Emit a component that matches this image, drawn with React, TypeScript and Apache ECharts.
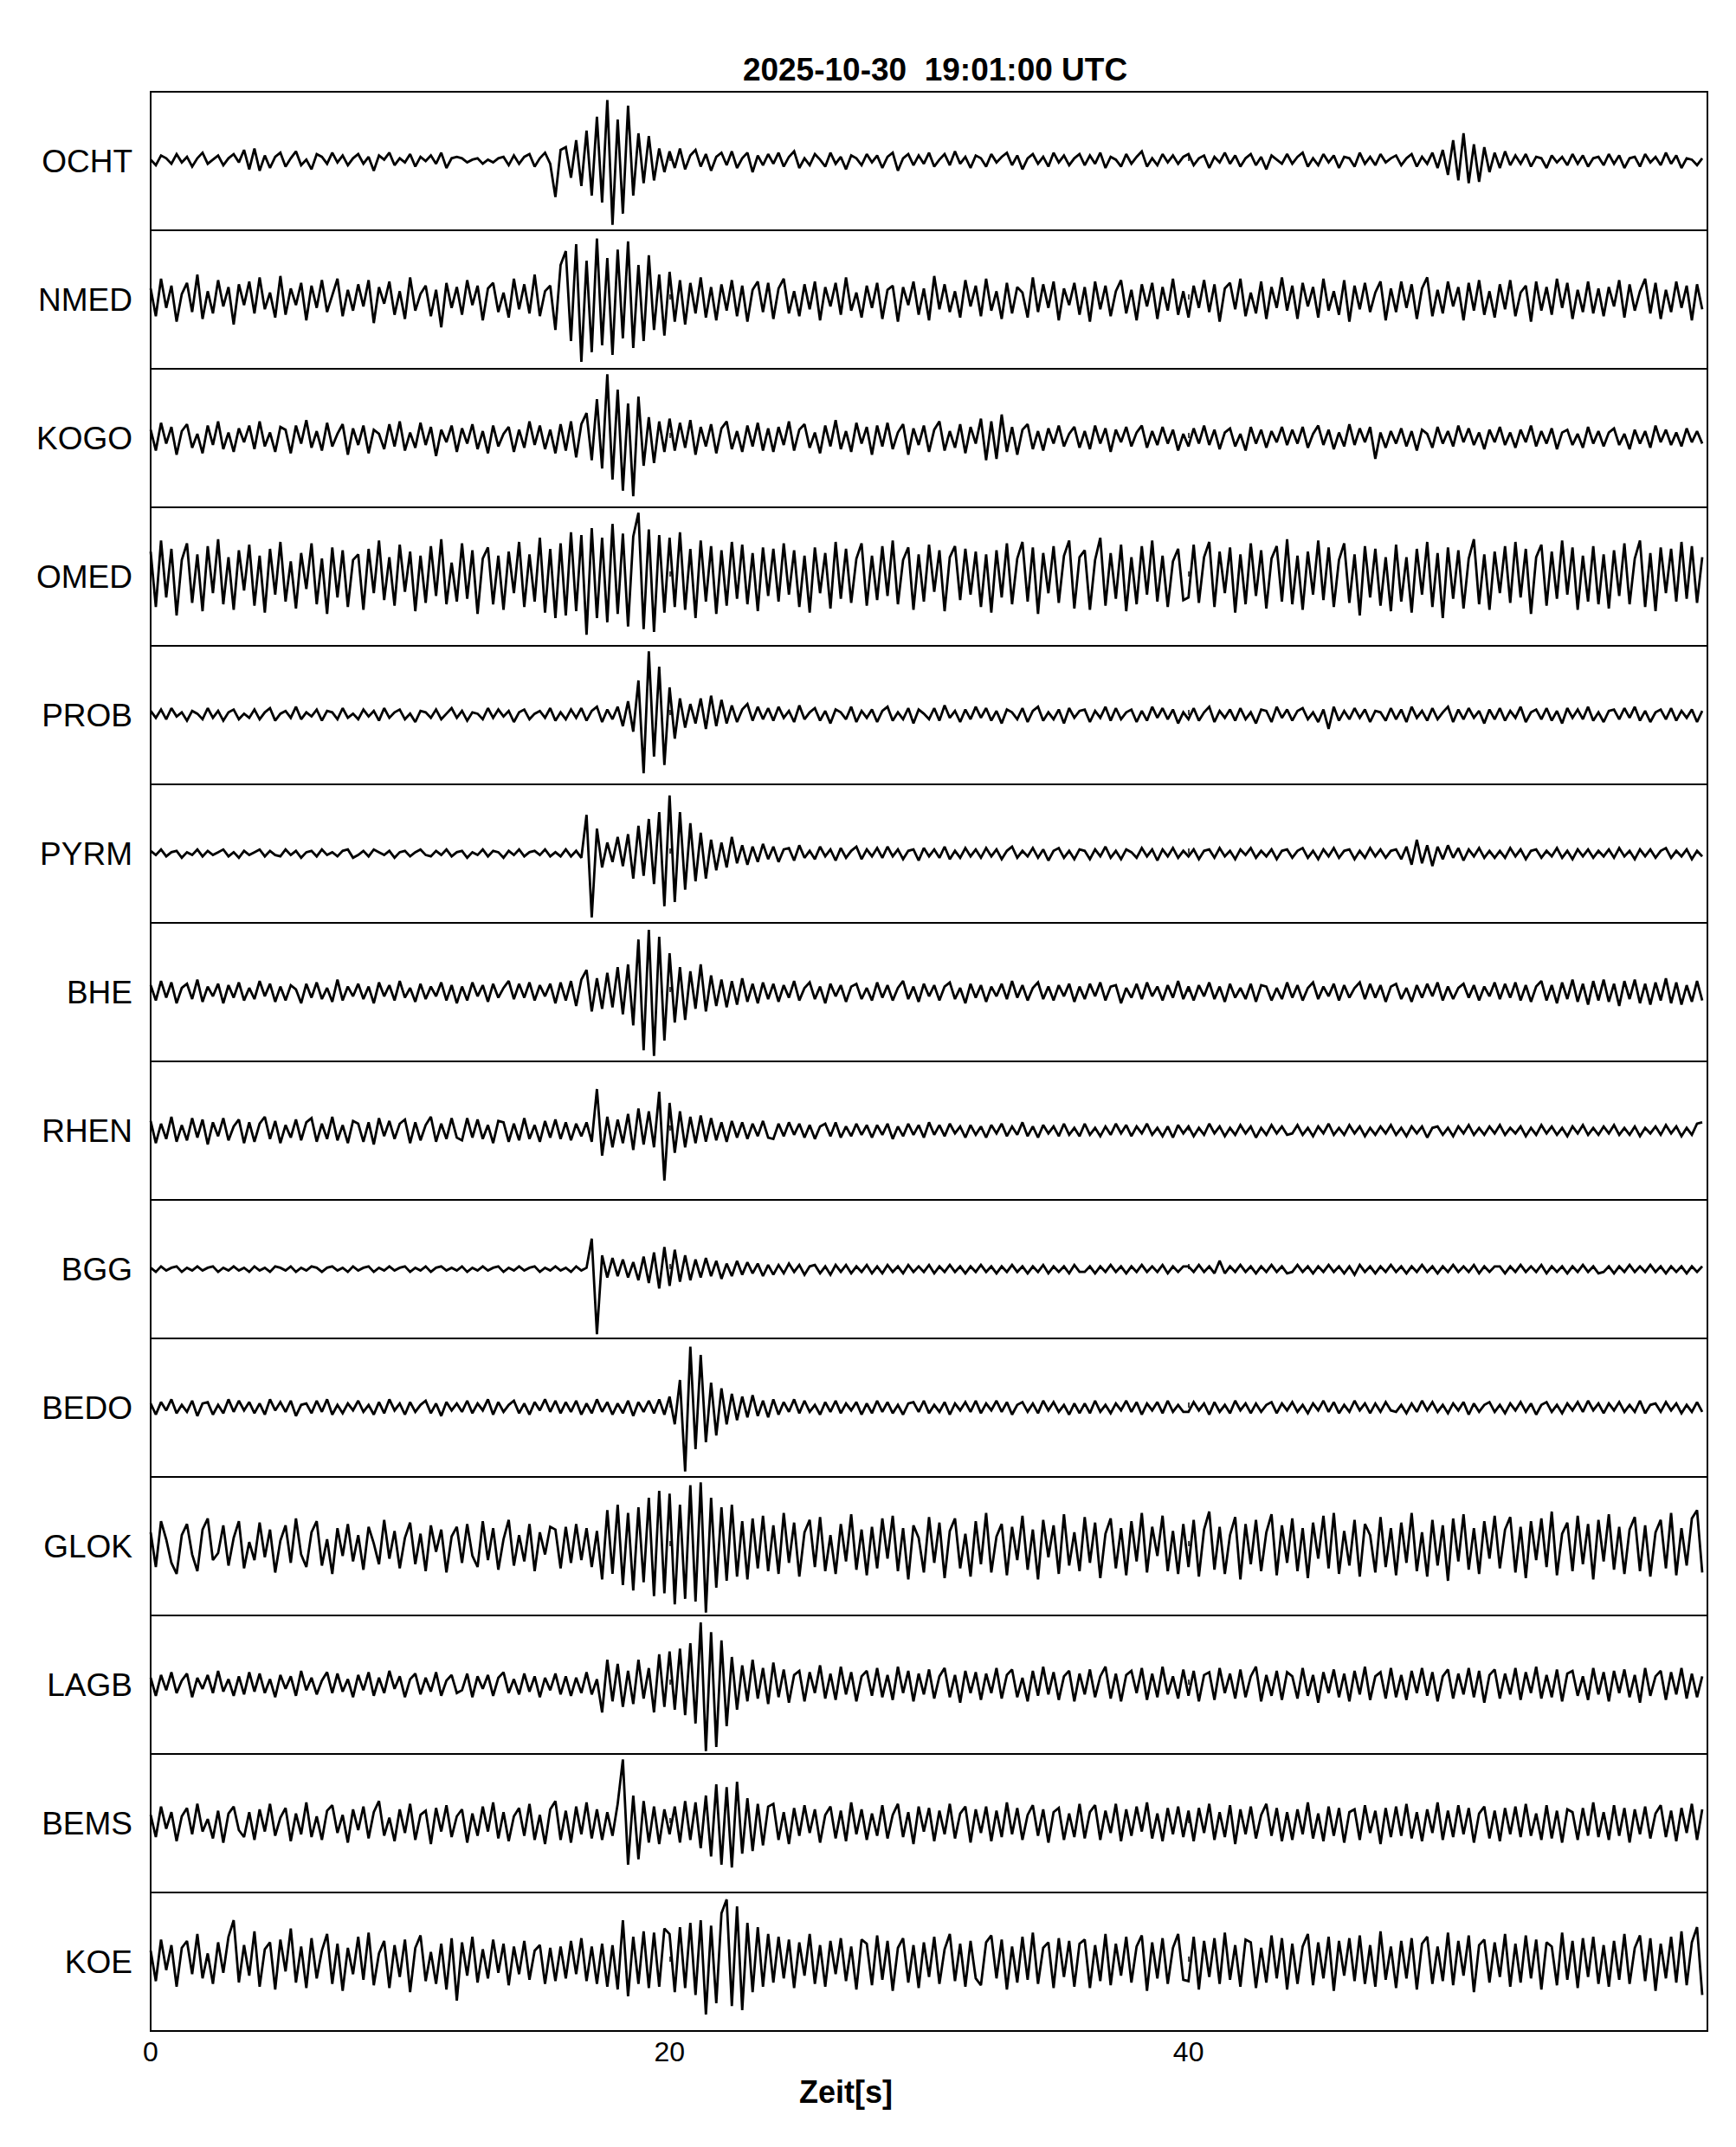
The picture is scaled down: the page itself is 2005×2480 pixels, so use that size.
import React, { useEffect, useRef } from "react";
import * as echarts from "echarts";

const TITLE = "2025-10-30  19:01:00 UTC";
const X_NAME = "Zeit[s]";
const DT = 0.2; // seconds per sample
const X_MIN = 0;
const X_MAX = 60;
const X_INTERVAL = 20;
const Y_MIN = -50;
const Y_MAX = 50;

const STATIONS = ["OCHT", "NMED", "KOGO", "OMED", "PROB", "PYRM", "BHE", "RHEN", "BGG", "BEDO", "GLOK", "LAGB", "BEMS", "KOE"];

const OCHT = [
  1, -3, 4, 2, -2, 5, -1, 3, -4, 2, 6, -2, 1, 4, -3, 2, 5, -1, 8, -6,
  9, -7, 4, -5, 3, 6, -4, 2, 7, -3, 1, -6, 5, 3, -2, 6, -1, 4, -3, 2,
  5, -2, 3, -7, 4, 1, 6, -3, 2, -1, 5, -4, 3, 0, 4, -2, 6, -5, 2, 3,
  2, -1, 1, 2, -2, 1, -1, 2, 3, -3, 4, -2, 3, 5, -4, 2, 6, -2, -26, 8,
  10, -12, 15, -18, 22, -25, 32, -30, 44, -46, 30, -38, 40, -25, 20, -16, 18, -14, 9, -8,
  7, -5, 9, -6, 4, 8, -4, 5, -7, 3, 6, -3, 7, -5, 2, 6, -8, 4, -3, 5,
  -2, 6, -4, 3, 7, -5, 2, -3, 5, 1, -4, 6, -2, 3, -6, 4, 2, -3, 5, -1,
  4, -5, 3, 6, -7, 2, 5, -3, 4, -2, 6, -4, 1, 5, -3, 7, -2, 3, -5, 4,
  2, -4, 5, -1, 3, 6, -3, 4, -6, 2, 5, -2, 3, -4, 6, -1, 4, -3, 2, 5,
  -3, 4, -2, 6, -5, 3, 1, -4, 5, -2, 3, 7, -4, 2, -3, 5, -1, 4, -2, 3,
  5, -3, 2, 4, -5, 3, -1, 6, -2, 4, -4, 2, 5, -3, 3, -6, 4, 1, -2, 5,
  -2, 3, 6, -4, 2, -3, 5, -1, 4, -5, 3, 2, -4, 6, -2, 3, -3, 5, -1, 2,
  4, -3, 2, 5, -4, 3, -2, 6, -5, 8, -10, 15, -14, 20, -16, 12, -15, 10, -8, 6,
  -5, 7, -3, 4, -2, 5, -4, 3, 2, -5, 4, -1, 3, -3, 5, -2, 4, -4, 2, 3,
  -3, 5, -2, 4, -5, 2, 3, -4, 5, -1, 3, -3, 6, -2, 4, -5, 2, 1, -3, 2,
];

const NMED = [
  8, -12, 15, -6, 10, -16, 4, 12, -9, 18, -14, 6, -10, 14, -5, 9, -18, 11, -4, 13,
  -10, 16, -7, 5, -13, 17, -11, 8, -4, 12, -15, 10, -6, 14, -9, 3, 15, -12, 7, -8,
  11, -5, 14, -17, 9, -3, 13, -11, 6, -14, 16, -8, 4, 10, -12, 7, -20, 12, -6, 9,
  -11, 14, -4, 10, -15, 8, 12, -9, 5, -13, 15, -7, 11, -10, 18, -12, 6, 10, -22, 25,
  35, -30, 40, -45, 28, -38, 44, -33, 30, -40, 36, -28, 42, -35, 25, -30, 32, -22, 18, -26,
  20, -16, 14, -18, 12, -10, 16, -13, 9, -15, 11, -8, 14, -12, 10, -16, 7, 13, -9, 12,
  -14, 8, 15, -10, 6, -12, 11, -7, 13, -15, 9, -5, 12, -11, 16, -8, 5, -13, 10, -6,
  12, -14, 7, 10, -16, 9, -4, 13, -11, 8, -15, 17, -7, 11, -9, 6, -13, 14, -5, 10,
  -12, 15, -8, 6, -14, 12, -10, 9, 5, -13, 16, -9, 11, -6, 13, -15, 8, -4, 12, -11,
  9, -16, 13, -7, 10, -12, 6, 14, -10, 7, -15, 11, -5, 12, -14, 9, -8, 15, -11, 6,
  -13, 10, -6, 14, -9, 11, -16, 8, 12, -7, 15, -12, 5, -10, 13, -14, 9, -6, 16, -8,
  10, -14, 12, -5, 9, -13, 15, -8, 6, -11, 14, -16, 10, -7, 12, -9, 5, 13, -15, 8,
  -9, 13, -6, 11, -14, 8, 16, -12, 7, -10, 13, -5, 9, -15, 12, -8, 14, -11, 6, -13,
  11, -7, 14, -12, 5, 10, -16, 13, -8, 9, -11, 15, -6, 12, -14, 7, -9, 13, -10, 8,
  -12, 9, -5, 14, -13, 11, -8, 6, 15, -10, 12, -14, 7, -9, 13, -6, 10, -15, 11, -7,
];

const KOGO = [
  6, -9, 11, -4, 8, -12, 5, 10, -7, 3, -11, 9, -5, 12, -8, 4, -10, 7, -3, 9,
  -8, 12, -6, 4, -10, 8, 6, -11, 9, -4, 13, -7, 5, -9, 11, -6, 3, 10, -12, 7,
  -5, 9, -11, 6, 3, -8, 10, -6, 12, -9, 4, -7, 11, -5, 8, -13, 6, -3, 9, -10,
  7, -4, 10, -8, 5, -11, 9, -6, 3, 8, -10, 6, -7, 12, -5, 9, -8, 6, -11, 10,
  -9, 12, -14, 10, 18, -16, 28, -22, 46, -30, 35, -38, 25, -42, 30, -20, 15, -18, 12, -10,
  14, -9, 11, -7, 13, -12, 8, -6, 10, -11, 7, 12, -8, 5, -10, 9, -6, 11, -9, 7,
  -10, 8, -5, 12, -9, 6, 10, -7, 4, -11, 9, -6, 13, -8, 5, -10, 11, -4, 8, -12,
  9, -6, 11, -8, 4, 10, -12, 7, -5, 9, -10, 6, 12, -9, 5, -7, 10, -11, 8, -4,
  14, -16, 12, -15, 17, -10, 8, -12, 6, 10, -8, 5, -9, 7, -4, 9, -6, 3, 8, -7,
  5, -8, 9, -4, 7, -10, 6, -3, 8, -6, 4, 9, -7, 5, -5, 8, -4, 6, -9, 3,
  -6, 7, -4, 9, -5, 6, -8, 4, 7, -6, 3, -9, 8, -4, 6, -7, 5, -3, 8, -5,
  6, -4, 8, -7, 3, 9, -5, 6, -8, 4, -6, 10, -5, 7, -3, 8, -15, 4, -7, 5,
  -4, 7, -6, 5, -9, 6, 3, -7, 8, -4, 5, -6, 9, -3, 7, -5, 4, -8, 6, -3,
  8, -5, 4, -7, 6, -3, 9, -6, 5, -4, 7, -8, 4, 6, -5, 3, -7, 8, -4, 5,
  -6, 4, 7, -5, 3, -8, 6, -4, 5, -7, 9, -3, 6, -5, 4, -6, 7, -3, 5, -4,
];

const OMED = [
  18, -22, 26, -15, 20, -28, 12, 24, -19, 16, -25, 22, -12, 27, -20, 14, -24, 19, -10, 23,
  -21, 15, -26, 20, -13, 25, -18, 11, -23, 17, -9, 24, -20, 13, -27, 21, -15, 19, -22, 12,
  16, -24, 20, -12, 26, -17, 14, -21, 23, -11, 18, -25, 15, -19, 22, -14, 27, -20, 10, -18,
  24, -16, 19, -27, 13, 21, -20, 15, -24, 18, -12, 25, -22, 16, -18, 28, -26, 20, -30, 24,
  -28, 32, -25, 30, -42, 35, -30, 28, -33, 38, -27, 31, -36, 29, 46, -38, 34, -40, 30, -26,
  28, -22, 32, -24, 20, -30, 26, -18, 22, -27, 19, -21, 25, -16, 23, -20, 17, -25, 21, -14,
  20, -18, 24, -13, 19, -22, 15, -26, 21, -12, 17, -23, 25, -16, 20, -19, 13, 24, -21, 15,
  -17, 22, -14, 26, -20, 12, 21, -24, 16, -18, 23, -11, 19, -25, 14, 22, -17, 20, -13, 18,
  -22, 16, -26, 19, -15, 24, -20, 13, 25, -18, 21, -27, 17, -12, 22, -19, 15, 26, -23, 14,
  19, -24, 12, 28, -21, 17, -16, 23, -25, 14, -20, 22, -13, 26, -18, 15, -22, 11, 20, -17,
  -15, 23, -19, 14, 25, -22, 18, -12, 21, -26, 16, -20, 24, -14, 19, -23, 13, 22, -18, 27,
  -20, 15, -24, 18, -13, 26, -17, 21, -22, 12, 24, -19, 16, -28, 22, -15, 20, -21, 14, -25,
  23, -18, 14, -26, 20, -13, 25, -22, 17, -30, 21, -16, 19, -23, 13, 27, -20, 16, -24, 18,
  -12, 22, -19, 25, -15, 20, -27, 14, 23, -21, 18, -16, 26, -13, 21, -24, 15, -18, 22, -20,
  16, -23, 19, -14, 24, -20, 13, 26, -22, 17, -25, 21, -12, 20, -18, 25, -16, 22, -19, 14,
];

const PROB = [
  3, -2, 4, -3, 5, -1, 2, -4, 3, 1, -3, 5, -2, 3, -4, 2, 4, -3, 1, -2,
  4, -3, 2, 5, -4, 1, 3, -2, 6, -3, 2, -1, 4, -4, 3, 2, -3, 5, -2, 1,
  -3, 4, -1, 3, -4, 5, -2, 2, 4, -3, 1, -5, 3, 2, -2, 4, -3, 1, 5, -2,
  3, -4, 2, 1, -3, 5, -2, 4, -1, 3, -5, 2, 4, -3, 1, 3, -2, 5, -4, 2,
  -3, 4, -2, 5, -4, 3, 6, -5, 4, -3, 6, -8, 10, -12, 25, -42, 46, -30, 35, -36,
  20, -17, 12, -9, 8, -6, 12, -10, 14, -8, 11, -6, 7, -5, 4, 8, -4, 6, -3, 5,
  -4, 6, -2, 3, -5, 7, -3, 2, 5, -4, 3, -6, 4, 2, -3, 6, -5, 3, -2, 4,
  -5, 3, 6, -4, 2, -3, 5, -6, 4, 1, -3, 5, -4, 7, -2, 3, -5, 4, -3, 6,
  -2, 5, -4, 3, -6, 4, 2, -3, 5, -5, 3, 6, -4, 2, -3, 4, -6, 5, -2, 3,
  4, -5, 3, -2, 6, -4, 5, -3, 2, 4, -5, 3, -4, 6, -2, 5, -3, 4, -6, 2,
  -3, 5, -4, 2, 6, -5, 3, -2, 4, -4, 5, -3, 2, -6, 4, 3, -5, 6, -2, 4,
  -4, 3, 5, -3, 2, -5, 4, -10, 6, -4, 3, -3, 5, -2, 4, -5, 3, 2, -4, 5,
  -3, 4, -5, 6, -2, 3, -4, 5, -3, 2, 6, -5, 4, -3, 5, -2, 3, -6, 4, -3,
  5, -4, 3, -2, 6, -5, 2, 4, -3, 5, -4, 3, -6, 5, -2, 4, -3, 6, -4, 2,
  -5, 3, 4, -3, 5, -2, 6, -4, 3, -5, 2, 4, -3, 5, -4, 3, -2, 4, -5, 3,
];

const PYRM = [
  2, -1, 3, -2, 1, 2, -3, 1, -1, 3, -2, 2, -1, 1, 3, -2, 1, -3, 2, -1,
  1, 3, -2, 2, -1, -2, 3, -1, 2, -3, 1, 2, -2, 3, -1, 1, -2, 2, 3, -3,
  -1, 2, -2, 3, 1, -1, 2, -3, 1, 2, -2, 1, 3, -1, -2, 2, -1, 3, -2, 1,
  2, -3, 1, -1, 3, -2, 2, 1, -3, 2, -1, 3, -2, 1, 2, -1, 3, -2, 1, -2,
  3, -2, 2, -3, 28, -46, 18, -10, 8, -6, 12, -9, 14, -18, 20, -16, 25, -22, 30, -38,
  42, -35, 30, -26, 22, -20, 15, -18, 10, -12, 8, -10, 12, -7, 6, -8, 5, -6, 7, -4,
  5, -6, 3, 4, -5, 6, -3, 2, -4, 5, -2, 3, -5, 4, -3, 2, 5, -4, 3, -2,
  4, -3, 5, -2, 3, -4, 2, 3, -5, 4, -2, 3, -3, 5, -4, 2, -3, 4, -2, 3,
  -3, 4, -2, 3, -4, 2, 5, -3, 2, -2, 4, -3, 3, -5, 2, 4, -3, 2, -4, 3,
  2, -4, 3, -2, 5, -3, 2, -4, 3, 1, -3, 4, -2, 3, -5, 3, -2, 4, -3, 2,
  -2, 3, -4, 2, 3, -3, 4, -2, 2, -4, 3, -1, 4, -3, 2, -2, 3, -4, 2, 3,
  -3, 2, 4, -3, 2, -4, 3, -2, 4, -3, 2, 3, -4, 2, -3, 4, -2, 3, -3, 2,
  3, -4, 5, -8, 10, -7, 6, -9, 5, -4, 6, -3, 4, -5, 3, -2, 4, -3, 2, -3,
  2, -3, 4, -2, 3, -4, 2, 3, -3, 2, -2, 4, -3, 2, -4, 3, -2, 3, -3, 2,
  -2, 3, -3, 4, -2, 2, -4, 3, -2, 3, -3, 2, 4, -3, 2, -2, 3, -4, 2, -2,
];

const BHE = [
  5, -6, 8, -4, 7, -8, 3, 6, -5, 9, -7, 4, -3, 6, -8, 5, -4, 7, -6, 3,
  -5, 8, -3, 6, -7, 4, -6, 5, 2, -8, 6, -4, 7, -5, 3, -7, 9, -6, 4, -3,
  6, -5, 4, -8, 7, -3, 5, -6, 8, -4, 3, -7, 6, -5, 4, -3, 7, -6, 5, -8,
  4, -6, 7, -3, 5, -7, 6, -4, 3, 8, -5, 6, -4, 7, -6, 5, -3, 6, -8, 7,
  -6, 8, -10, 9, 16, -14, 10, -12, 14, -11, 18, -16, 20, -24, 38, -42, 45, -46, 40, -35,
  28, -22, 18, -20, 15, -12, 20, -14, 12, -10, 9, -11, 8, -9, 10, -7, 6, -8, 7, -5,
  6, -7, 5, -4, 8, -6, 3, 7, -5, 4, -8, 6, -3, 5, -7, 4, 6, -5, 3, -6,
  7, -4, 5, -6, 3, 8, -5, 4, -7, 6, -3, 5, -6, 4, 7, -5, 3, -8, 6, -4,
  5, -7, 4, -3, 6, -5, 8, -4, 5, -6, 3, 7, -5, 4, -6, 5, -3, 6, -7, 4,
  -5, 6, -3, 7, -6, 4, 5, -8, 3, -4, 6, -5, 7, -3, 4, -6, 5, -4, 8, -5,
  4, -6, 5, -3, 7, -5, 4, -7, 6, -4, 3, -5, 6, -7, 5, 4, -6, 3, -5, 7,
  -4, 5, -6, 3, 7, -5, 4, -3, 6, -6, 5, -4, 3, 7, -5, 6, -4, 5, -7, 4,
  6, -5, 3, -7, 5, -4, 6, -3, 7, -6, 4, -5, 3, 6, -4, 5, -6, 4, -3, 7,
  -5, 6, -4, 7, -6, 5, -7, 4, 8, -6, 5, -8, 7, -5, 9, -7, 6, -9, 8, -6,
  9, -7, 6, -10, 8, -5, 9, -8, 6, -9, 7, -6, 10, -8, 7, -9, 5, -7, 8, -6,
];

const RHEN = [
  7, -9, 5, -6, 10, -8, 4, -7, 9, -5, 8, -10, 6, -4, 9, -7, 3, 8, -9, 6,
  -8, 5, 10, -6, 7, -9, 4, -5, 8, -7, 6, 9, -8, 5, -6, 10, -7, 4, -9, 7,
  5, -8, 6, -10, 9, -4, 7, -6, 5, 8, -9, 6, -7, 4, 10, -8, 5, -6, 9, -5,
  -7, 9, -5, 8, -6, 4, -9, 7, 6, -8, 5, -7, 9, -6, 4, -8, 7, -5, 8, -6,
  6, -7, 5, -4, 6, -8, 30, -18, 10, -12, 8, -9, 12, -14, 16, -10, 14, -12, 28, -36,
  20, -16, 14, -12, 10, -9, 11, -8, 9, -7, 6, -8, 7, -5, 6, -6, 5, -4, 7, -5,
  -6, 5, -4, 6, -3, 5, -5, 4, -6, 3, 5, -4, 6, -5, 3, -4, 5, -3, 4, -5,
  4, -3, 5, -6, 3, -4, 5, -3, 4, -5, 6, -3, 4, -4, 5, -2, 3, -5, 4, -3,
  3, -5, 4, -2, 5, -4, 3, -3, 6, -4, 3, -5, 4, -2, 3, -4, 5, -3, 2, -4,
  5, -3, 2, -4, 3, -3, 5, -2, 4, -4, 3, -2, 5, -3, 2, -4, 3, -5, 4, -2,
  3, -4, 2, -3, 5, -2, 3, -4, 2, -3, 4, -2, 3, -5, 2, -3, 4, -2, 3, -3,
  -2, 4, -3, 2, -4, 3, -2, 5, -3, 2, -3, 4, -2, 3, -4, 2, -3, 3, -2, 4,
  -3, 2, -4, 3, -2, 3, -5, 2, 3, -3, 2, -4, 3, -2, 4, -3, 2, -3, 3, -2,
  4, -3, 2, -2, 3, -4, 2, -3, 4, -2, 3, -3, 2, -4, 3, -2, 4, -3, 2, -3,
  3, -2, 4, -3, 2, -3, 3, -4, 2, -2, 3, -3, 4, -2, 3, -4, 2, -3, 5, 6,
];

const BGG = [
  1, -2, 2, -1, 1, 2, -2, 1, -1, 2, -1, 1, 2, -2, 1, -1, 2, -1, 1, -2,
  2, -1, 1, -2, 2, 1, -1, 2, -2, 1, -1, 2, 1, -2, 1, 2, -1, 1, -2, 2,
  -1, 1, 2, -2, 1, -1, 2, -1, 1, 2, -2, 1, -1, 2, -2, 1, 2, -1, 1, -1,
  2, -2, 1, -1, 2, -1, 1, 2, -2, 1, -1, 2, -1, 1, 2, -2, 1, -1, 2, -1,
  1, -2, 2, -1, 1, 22, -47, 10, -6, 8, -5, 7, -6, 5, -8, 9, -10, 12, -14, 16,
  -12, 14, -9, 10, -8, 7, -6, 8, -5, 6, -7, 4, -5, 6, -4, 5, -3, 4, -5, 3,
  -4, 3, -3, 4, -2, 3, -4, 2, 3, -3, 2, -4, 3, -2, 3, -3, 2, -2, 3, -3,
  2, -3, 3, -2, 2, -3, 3, -2, 2, -2, 3, -3, 2, -2, 3, -2, 2, -3, 2, -2,
  3, -2, 2, -3, 2, -2, 3, -2, 2, -3, 2, -2, 3, -3, 2, -2, 2, -3, 3, -2,
  -2, 2, -3, 2, -2, 3, -2, 2, -3, 2, -2, 3, -2, 2, -2, 3, -3, 2, -2, 2,
  2, -2, 3, -2, 2, -3, 6, -3, 2, -2, 3, -2, 2, -3, 2, -2, 3, -2, 2, -3,
  -2, 3, -2, 2, -3, 2, -2, 3, -2, 2, -3, 2, -4, 3, -2, 2, -3, 2, -2, 3,
  -2, 2, -3, 2, -2, 3, -2, 2, -3, 2, -2, 3, -2, 2, -2, 3, -3, 2, -2, 2,
  2, -3, 2, -2, 3, -2, 2, -2, 3, -3, 2, -2, 2, -3, 2, -2, 3, -2, 2, -3,
  -2, 2, -3, 2, -2, 3, -2, 2, -2, 3, -2, 2, -3, 2, -2, 2, -3, 2, -2, 2,
];

const BEDO = [
  3, -5, 4, -2, 6, -4, 2, -3, 5, -6, 3, 4, -5, 2, -4, 6, -3, 5, -2, 4,
  -4, 3, -5, 6, -2, 4, -3, 5, -6, 2, 3, -4, 5, -3, 6, -5, 2, -4, 3, -2,
  5, -3, 2, -5, 4, -4, 6, -2, 3, -5, 4, -3, 2, 5, -4, 3, -6, 4, -2, 3,
  -3, 5, -4, 3, -2, 6, -5, 4, -3, 2, 5, -4, 3, -5, 4, -2, 6, -3, 5, -4,
  4, -3, 5, -5, 3, -4, 6, -3, 4, -5, 3, -4, 5, -6, 4, -3, 5, -4, 6, -5,
  8, -12, 20, -46, 44, -30, 38, -25, 18, -20, 14, -12, 10, -9, 8, -7, 9, -6, 5, -7,
  6, -5, 4, -3, 6, -4, 5, -3, 2, -5, 4, -3, 5, -4, 3, -2, 4, -5, 3, -4,
  5, -3, 4, -4, 2, -5, 3, 4, -3, 5, -4, 2, -3, 4, -5, 3, -2, 4, -3, 5,
  -4, 3, -2, 5, -3, 4, -5, 2, 4, -3, 3, -4, 5, -2, 4, -3, 2, -5, 3, -4,
  3, -4, 5, -3, 2, -4, 3, -2, 5, -3, 4, -5, 3, -2, 4, -4, 5, -3, 2, -3,
  -3, 4, -2, 3, -5, 4, -3, 2, -4, 5, -2, 3, -4, 3, -3, 2, 4, -4, 3, -2,
  4, -3, 2, -4, 3, -2, 5, -3, 4, -4, 2, -3, 5, -2, 3, -4, 3, -3, 4, -2,
  -3, 2, -4, 3, -3, 5, -2, 4, -3, 2, -4, 3, -2, 4, -5, 3, -3, 2, 4, -3,
  2, -4, 3, -2, 4, -3, 3, -5, 2, 4, -3, 2, -4, 3, -2, 4, -3, 5, -2, 3,
  -4, 3, -2, 4, -3, 2, -3, 5, -4, 2, 3, -3, 4, -2, 3, -4, 2, -3, 4, -3,
];

const GLOK = [
  10, -15, 18, 5, -12, -20, 8, 16, -6, -18, 12, 20, -10, -5, 15, -14, 6, 18, -16, 3,
  -10, 17, -8, 12, -19, 4, 15, -12, 20, -6, -15, 10, 18, -14, 5, -20, 13, -7, 16, -11,
  8, -17, 14, 2, -13, 19, -9, 11, -16, 6, 17, -13, 9, -18, 15, -4, 12, -19, 7, 14,
  -12, 16, -7, -15, 18, -10, 13, -17, 5, 19, -14, 8, -11, 16, -18, 10, -6, 14, 12, -16,
  14, -12, 16, -10, 13, -15, 11, -24, 26, -20, 30, -28, 24, -32, 28, -26, 35, -36, 40, -34,
  38, -42, 30, -38, 44, -40, 46, -48, 35, -30, 28, -25, 30, -22, 18, -24, 20, -16, 22, -18,
  15, -20, 24, -12, 17, -22, 10, 19, -15, 21, -18, 8, -20, 16, -11, 23, -17, 12, -21, 14,
  -16, 20, -9, 22, -18, 13, -24, 15, 6, -19, 21, -12, 17, -23, 11, 20, -16, 9, -22, 18,
  -13, 24, -19, 7, 16, -21, 14, -10, 22, -17, 12, -24, 19, -8, 15, -20, 23, -14, 10, -18,
  21, -12, 17, -23, 9, 20, -16, 13, -21, 18, -11, 24, -19, 14, -7, 22, -18, 11, -20, 16,
  -15, 19, -22, 12, 25, -17, 14, -20, 8, 21, -24, 16, -13, 19, -18, 10, 23, -21, 15, -12,
  20, -18, 13, -23, 17, -9, 22, -16, 24, -20, 11, -14, 19, -22, 16, 8, -19, 21, -15, 13,
  -21, 17, -12, 24, -18, 10, -22, 19, -14, 15, -25, 20, -11, 23, -17, 13, -20, 18, -9, 22,
  -16, 12, 21, -19, 14, -23, 18, -10, 20, -15, 25, -21, 9, 17, -18, 22, -13, 16, -24, 19,
  -11, 23, -17, 14, -20, 12, 21, -18, 15, -22, 10, 19, -16, 24, -21, 13, -14, 20, 26, -19,
];

const LAGB = [
  5, -8, 7, -4, 9, -6, 3, 8, -9, 5, -3, 7, -6, 10, -5, 4, -8, 6, -7, 9,
  -5, 8, -6, 4, -9, 7, -3, 6, -8, 10, -4, 5, -7, 3, 9, -6, 8, -5, 4, -9,
  7, -4, 9, -8, 5, -6, 10, -3, 6, -9, 4, 8, -7, 5, -5, 9, -8, 3, 7, -6,
  -4, 8, -9, 6, -3, 7, -8, 5, 9, -6, 4, -7, 8, -5, 6, -9, 5, -4, 8, -7,
  6, -8, 5, -6, 9, -7, 4, -20, 18, -12, 15, -16, 10, -14, 18, -10, 12, -20, 22, -16,
  24, -18, 26, -22, 30, -28, 45, -48, 38, -45, 32, -30, 20, -18, 14, -12, 18, -10, 12, -14,
  16, -9, 11, -13, 7, 10, -12, 9, -6, 14, -10, 8, -11, 13, -7, 9, -12, 6, 10, -8,
  12, -9, 7, -11, 13, -6, 10, -12, 8, -7, 11, -10, 6, 12, -9, 7, -13, 10, -6, 9,
  -11, 8, -6, 12, -10, 7, 11, -9, 5, -12, 10, -8, 13, -7, 9, -11, 6, 10, -12, 8,
  -7, 11, -9, 6, 13, -10, 8, -12, 7, 10, -6, 12, -11, 8, -9, 13, -7, 6, -10, 11,
  -8, 10, -12, 7, 9, -11, 12, -6, 8, -10, 11, -9, 6, 13, -12, 7, -8, 10, -11, 9,
  6, -10, 12, -8, 7, -13, 9, -6, 11, -9, 8, -12, 10, -7, 13, -11, 6, 9, -10, 12,
  -9, 7, -11, 10, -6, 12, -8, 9, -12, 6, 11, -10, 8, -7, 12, -9, 10, -13, 7, 11,
  -10, 8, -7, 12, -11, 9, -6, 13, -10, 7, -9, 11, -12, 8, 10, -8, 6, -11, 12, -7,
  9, -12, 10, -6, 11, -9, 7, -13, 12, -8, 6, 10, -11, 9, -7, 12, -10, 8, -9, 6,
];

const BEMS = [
  6, -10, 12, -4, 8, -13, 5, 11, -8, 14, -6, 3, -11, 9, -14, 7, 12, -5, -10, 8,
  -12, 10, -6, 14, -9, 4, 11, -13, 7, -8, 15, -10, 5, -12, 9, 13, -7, 6, -14, 10,
  -5, 12, -11, 8, 16, -9, 4, -13, 10, -7, 14, -12, 6, 9, -15, 11, -6, 13, -10, 5,
  10, -14, 7, -9, 12, -6, 15, -11, 8, -13, 5, 11, -9, 14, -12, 6, -15, 10, 16, -12,
  9, -14, 12, -8, 15, -11, 10, -12, 8, -9, 14, 46, -30, 20, -26, 16, -14, 12, -15, 10,
  -8, 12, -14, 16, -12, 15, -18, 20, -24, 28, -30, 26, -32, 30, -22, 18, -20, 14, -16, 12,
  14, -12, 8, -15, 11, -9, 13, -7, 10, -14, 6, 12, -11, 9, -13, 15, -8, 10, -12, 7,
  -9, 13, -11, 6, 14, -10, 8, -15, 12, -6, 11, -13, 9, -8, 14, -11, 7, 12, -14, 10,
  -7, 12, -13, 9, -10, 15, -8, 11, -12, 6, 13, -9, 10, -14, 8, 11, -12, 7, -10, 14,
  -11, 8, 13, -12, 9, -7, 14, -13, 10, -9, 12, -6, 15, -11, 7, -13, 11, -8, 12, -10,
  9, -13, 11, -7, 14, -12, 8, -10, 13, -15, 10, -8, 12, -11, 6, 14, -9, 11, -13, 8,
  -12, 10, -8, 15, -11, 7, -13, 12, -9, 11, -14, 8, 10, -12, 13, -7, 9, -15, 11, -10,
  12, -9, 14, -11, 8, -13, 10, -7, 15, -12, 9, -10, 13, -8, 11, -14, 7, 12, -11, 9,
  -13, 11, -8, 12, -10, 14, -9, 7, -12, 13, -11, 9, -14, 10, 8, -12, 11, -9, 15, -10,
  8, -12, 13, -9, 11, -14, 10, -8, 12, -11, 7, 13, -10, 9, -13, 11, -7, 14, -12, 10,
];

const KOE = [
  8, -14, 16, -6, 12, -18, 10, 15, -9, 20, -12, 6, -16, 14, -8, 18, 30, -15, 12, -10,
  22, -18, 9, 14, -20, 16, -7, 24, -15, 11, -19, 17, -12, 8, 20, -16, 13, -21, 10, -9,
  18, -13, 21, -17, 6, 15, -19, 12, -11, 16, -22, 10, 19, -14, 7, -16, 13, -20, 17, -28,
  14, -10, 18, -15, 9, -12, 16, -8, 13, -17, 11, -9, 15, -13, 8, 12, -16, 10, -14, 11,
  -12, 15, -9, 17, -14, 11, -16, 13, -18, 12, -20, 30, -25, 18, -16, 22, -19, 21, -18, 24,
  20, -22, 25, -19, 28, -24, 30, -38, 26, -30, 35, 45, -32, 40, -35, 28, -22, 25, -18, 20,
  -15, 18, -12, 16, -19, 14, -10, 20, -16, 12, -18, 15, -9, 17, -14, 11, -20, 16, 13, -17,
  19, -13, 15, -21, 10, 17, -15, 12, -19, 14, -11, 18, -16, 9, 20, -14, 13, -18, 15, -12,
  -17, 14, 19, -12, 16, -20, 11, -15, 18, -13, 21, -16, 10, 14, -19, 17, -11, 15, -18, 13,
  16, -19, 12, -14, 20, -17, 13, -10, 18, -15, 11, 19, -21, 14, -12, 17, -16, 10, 20, -13,
  -14, 18, -20, 15, -11, 17, -16, 21, -13, 12, -18, 16, 14, -19, 10, -15, 19, -12, 17, -20,
  13, -16, 11, 20, -17, 14, -12, 18, -21, 15, -10, 17, -14, 19, -16, 12, -18, 22, -13, 11,
  -19, 15, -12, 17, -20, 13, 18, -16, 11, -14, 21, -17, 15, -10, 19, -22, 12, 16, -15, 14,
  -11, 20, -18, 13, -15, 19, -12, 16, -20, 14, 11, -17, 21, -13, 15, -19, 17, -11, 18, -16,
  12, -18, 15, -13, 20, -16, 10, 19, -14, 17, -21, 13, -12, 18, -15, 22, -17, 14, 25, -24,
];

const TRACES = [OCHT, NMED, KOGO, OMED, PROB, PYRM, BHE, RHEN, BGG, BEDO, GLOK, LAGB, BEMS, KOE];

const FONT = "Liberation Sans, Arial, Helvetica, sans-serif";
const PLOT_LEFT = 174;
const PLOT_WIDTH = 1798;
const PLOT_TOP = 106;
const PANEL_H = 160;

export default function App() {
  const ref = useRef<HTMLDivElement>(null);

  useEffect(() => {
    const chart = echarts.init(ref.current as HTMLDivElement, null, { renderer: "svg" });
    const n = STATIONS.length;
    const grid: any[] = [];
    const xAxis: any[] = [];
    const yAxis: any[] = [];
    const series: any[] = [];
    const graphic: any[] = [];

    STATIONS.forEach((name, k) => {
      const top = PLOT_TOP + k * PANEL_H;
      grid.push({
        left: PLOT_LEFT,
        top,
        width: PLOT_WIDTH,
        height: PANEL_H,
        show: true,
        borderColor: "#000",
        borderWidth: 2,
        backgroundColor: "transparent",
        containLabel: false,
      });
      xAxis.push({
        type: "value",
        gridIndex: k,
        min: X_MIN,
        max: X_MAX,
        interval: X_INTERVAL,
        axisLine: { show: false },
        axisTick: { show: true, inside: true, length: 6, lineStyle: { color: "#000", width: 1.5 } },
        splitLine: { show: false },
        axisLabel: {
          show: k === n - 1,
          margin: 8,
          color: "#000",
          fontSize: 32,
          fontFamily: FONT,
          showMaxLabel: false,
          formatter: (v: number) => (v === X_MAX ? "" : String(v)),
        },
      });
      yAxis.push({ type: "value", gridIndex: k, min: Y_MIN, max: Y_MAX, show: false });
      series.push({
        type: "line",
        name,
        xAxisIndex: k,
        yAxisIndex: k,
        data: TRACES[k].map((v, i) => [i * DT, v]),
        symbol: "none",
        showSymbol: false,
        silent: true,
        lineStyle: { color: "#000", width: 2.8, join: "miter", miterLimit: 2 },
      });
      graphic.push({
        type: "text",
        x: 153,
        y: top + PANEL_H / 2,
        style: {
          text: name,
          fill: "#000",
          fontSize: 37,
          fontFamily: FONT,
          align: "right",
          verticalAlign: "middle",
        },
      });
    });

    graphic.push({
      type: "text",
      x: 1080,
      y: 80,
      style: {
        text: TITLE,
        fill: "#000",
        fontSize: 37,
        fontWeight: "bold",
        fontFamily: FONT,
        align: "center",
        verticalAlign: "middle",
      },
    });
    graphic.push({
      type: "text",
      x: 977,
      y: 2416,
      style: {
        text: X_NAME,
        fill: "#000",
        fontSize: 36,
        fontWeight: "bold",
        fontFamily: FONT,
        align: "center",
        verticalAlign: "middle",
      },
    });

    chart.setOption({
      animation: false,
      backgroundColor: "#fff",
      grid,
      xAxis,
      yAxis,
      series,
      graphic,
    });
    return () => chart.dispose();
  }, []);

  return (
    <div
      ref={ref}
      style={{ position: "absolute", left: 0, top: 0, width: 2005, height: 2480, background: "#fff" }}
    />
  );
}
